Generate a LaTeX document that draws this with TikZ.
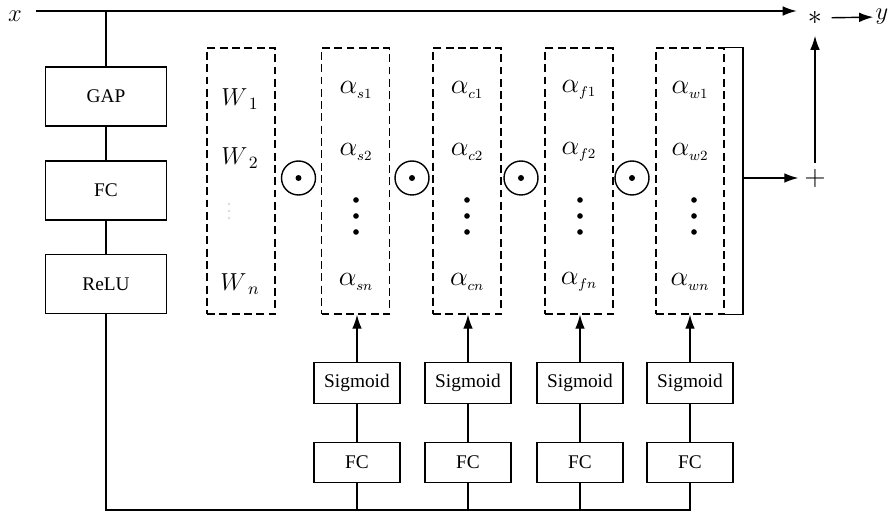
\documentclass[tikz,border=0pt]{standalone}
\usepackage{fix-cm}
\usepackage{fontspec}
\setmainfont{Liberation Serif}
\usetikzlibrary{arrows.meta}

\begin{document}
\begin{tikzpicture}[x=0.02cm, y=-0.02cm, line width=0.8pt,
    blk/.style={draw, minimum width=2.42cm, minimum height=1.18cm, font=\fontsize{11}{13}\selectfont},
    sblk/.style={draw, minimum width=1.72cm, minimum height=0.81cm, font=\fontsize{11}{13}\selectfont},
    dbox/.style={draw, dash pattern=on 4.5pt off 2.5pt, minimum width=1.36cm, minimum height=5.32cm},
    odot/.style={draw, circle, minimum size=0.68cm, inner sep=0pt},
    coef/.style={font=\fontsize{16}{18}\selectfont},
    io/.style={font=\fontsize{14}{16}\selectfont, inner sep=1pt},
    wt/.style={font=\fontsize{14}{17}\selectfont},
    op/.style={font=\fontsize{16}{18}\selectfont, inner sep=3pt},
    arr/.style={-{Latex[length=8pt,width=5.5pt]}}]
  \useasboundingbox (0,0) rectangle (894,513);
  % input and output
  \node[io] (xin) at (15,16) {$x$};
  \coordinate (xs) at (36,11);
  \node[op, inner sep=1pt] (star) at (815,18) {$\ast$};
  \node[io] (yout) at (882,17) {$y$};
  \node[op] (plus) at (815,178) {$+$};
  % squeeze branch
  \node[blk] (gap) at (106,96.5) {GAP};
  \node[blk] (fc) at (106,190.5) {FC};
  \node[blk] (relu) at (106,284) {ReLU};
  % weights
  \node[dbox] (w) at (241,181) {};
  \node[wt] (w1) at (240,99) {$W_{\;1}$};
  \node[wt] (w2) at (240,158) {$W_{\;2}$};
  \node[wt] (wn) at (240,284) {$W_{\;n}$};
  \fill[black!15] (229,204) circle (0.8pt) (229,211) circle (0.8pt) (229,218) circle (0.8pt);
  % coefficient columns
  \node[dbox] (as) at (355.5,181) {};
  \node[dbox] (ac) at (467,181) {};
  \node[dbox] (af) at (579,181) {};
  \node[dbox] (aw) at (690,181) {};
  \node[coef] (as1) at (356,90) {$\alpha_{\scriptscriptstyle s1}$}; \node[coef] (as2) at (356,152) {$\alpha_{\scriptscriptstyle s2}$}; \node[coef] (asn) at (356,282) {$\alpha_{\scriptscriptstyle sn}$};
  \node[coef] (ac1) at (467,90) {$\alpha_{\scriptscriptstyle c1}$}; \node[coef] (ac2) at (467,152) {$\alpha_{\scriptscriptstyle c2}$}; \node[coef] (acn) at (467,282) {$\alpha_{\scriptscriptstyle cn}$};
  \node[coef] (af1) at (579,90) {$\alpha_{\scriptscriptstyle f1}$}; \node[coef] (af2) at (579,152) {$\alpha_{\scriptscriptstyle f2}$}; \node[coef] (afn) at (579,282) {$\alpha_{\scriptscriptstyle fn}$};
  \node[coef] (aw1) at (690,90) {$\alpha_{\scriptscriptstyle w1}$}; \node[coef] (aw2) at (690,152) {$\alpha_{\scriptscriptstyle w2}$}; \node[coef] (awn) at (690,282) {$\alpha_{\scriptscriptstyle wn}$};
  \foreach \cx in {356,467,580,694}
    \fill (\cx,200) circle (1.6pt) (\cx,216) circle (1.6pt) (\cx,232) circle (1.6pt);
  % products
  \node[odot] (o1) at (298.5,178) {};
  \node[odot] (o2) at (412,178) {};
  \node[odot] (o3) at (521,178) {};
  \node[odot] (o4) at (632,178) {};
  \fill (o1) circle (1.7pt) (o2) circle (1.7pt) (o3) circle (1.7pt) (o4) circle (1.7pt);
  % excitation branches
  \node[sblk] (sigs) at (357,383) {Sigmoid}; \node[sblk] (fcs) at (357,462.5) {FC};
  \node[sblk] (sigc) at (468,383) {Sigmoid}; \node[sblk] (fcc) at (468,462.5) {FC};
  \node[sblk] (sigf) at (580,383) {Sigmoid}; \node[sblk] (fcf) at (580,462.5) {FC};
  \node[sblk] (sigw) at (690,383) {Sigmoid}; \node[sblk] (fcw) at (690,462.5) {FC};
  \coordinate (bot) at (690,510);
  \coordinate (br) at (743,178);
  % connectors
  \draw[arr, shorten >=5pt] (xs) -- (xs -| star.west);
  \draw[arr, shorten <=4pt] (star) -- (yout);
  \draw[arr, shorten >=5pt] (plus) -- (star);
  \draw (gap.north) -- (gap.north |- xs);
  \draw (gap) -- (fc) (fc) -- (relu);
  \draw (relu.south) |- (bot) -- (fcw.south);
  \draw (fcs.south) -- (fcs.south |- bot) (fcc.south) -- (fcc.south |- bot) (fcf.south) -- (fcf.south |- bot);
  \draw (fcs) -- (sigs) (fcc) -- (sigc) (fcf) -- (sigf) (fcw) -- (sigw);
  \draw[arr] (sigs.north) -- (sigs.north |- as.south);
  \draw[arr] (sigc.north) -- (sigc.north |- ac.south);
  \draw[arr] (sigf.north) -- (sigf.north |- af.south);
  \draw[arr] (sigw.north) -- (sigw.north |- aw.south);
  \draw (aw.north east) -| (br) |- (aw.south east);
  \draw[arr] (br) -- (plus);
\end{tikzpicture}
\end{document}
